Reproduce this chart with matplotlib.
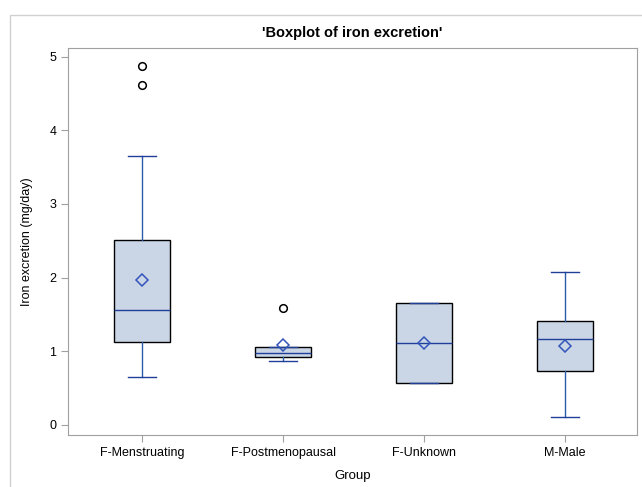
import matplotlib
matplotlib.use("Agg")
import matplotlib.pyplot as plt
from matplotlib.patches import Rectangle

plt.rcParams["font.family"] = ["Liberation Sans", "DejaVu Sans"]

groups = ["F-Menstruating", "F-Postmenopausal", "F-Unknown", "M-Male"]
whislo = [0.65, 0.86, 0.57, 0.11]
q1 = [1.13, 0.92, 0.57, 0.73]
med = [1.56, 0.98, 1.11, 1.17]
q3 = [2.51, 1.05, 1.66, 1.41]
whishi = [3.65, 1.05, 1.66, 2.08]
means = [1.97, 1.09, 1.11, 1.07]
outliers = [[4.88, 4.62], [1.58], [], []]


def get_stats():
    stats = []
    for i in range(len(groups)):
        stats.append({
            "label": groups[i],
            "whislo": whislo[i],
            "q1": q1[i],
            "med": med[i],
            "q3": q3[i],
            "whishi": whishi[i],
            "mean": means[i],
            "fliers": outliers[i],
        })
    return stats


def generate_chart():
    fig = plt.figure(figsize=(6.42, 4.87), dpi=100)
    fig.patches.append(Rectangle((10 / 642, -0.1), 1.2, 1.1 - 15 / 487 + 0.001,
                                 transform=fig.transFigure, fill=False,
                                 edgecolor="#d0d0d0", linewidth=1))
    ax = fig.add_axes([68 / 642, 1 - 435 / 487, (637 - 68) / 642, (435 - 48) / 487])

    ax.bxp(get_stats(), positions=[1, 2, 3, 4], widths=0.4, patch_artist=True,
           showmeans=True, showcaps=True,
           boxprops=dict(facecolor="#cad5e5", edgecolor="black", linewidth=1),
           medianprops=dict(color="#1f3f99", linewidth=1),
           whiskerprops=dict(color="#2a5caa", linewidth=1),
           capprops=dict(color="#1f3f99", linewidth=1),
           capwidths=0.2,
           meanprops=dict(marker="D", markerfacecolor="none",
                          markeredgecolor="#3355bb", markersize=6.5,
                          markeredgewidth=1.1),
           flierprops=dict(marker="o", markerfacecolor="none",
                           markeredgecolor="black", markersize=5.5,
                           markeredgewidth=1.1))

    ax.set_xlim(0.475, 4.51)
    ax.set_ylim(-0.14, 5.12)
    ax.set_yticks([0, 1, 2, 3, 4, 5])
    ax.set_xticks([1, 2, 3, 4])
    ax.set_xticklabels(groups)
    for s in ax.spines.values():
        s.set_color("#a0a0a0")
    ax.tick_params(colors="#a0a0a0", labelcolor="black", labelsize=9, length=5)

    ax.set_title("'Boxplot of iron excretion'", fontsize=10.5, fontweight="bold", pad=8)
    ax.set_xlabel("Group", fontsize=9.5, labelpad=8)
    ax.set_ylabel("Iron excretion (mg/day)", fontsize=9, labelpad=12)

    fig.savefig("out.png", dpi=100)


if __name__ == "__main__":
    generate_chart()
